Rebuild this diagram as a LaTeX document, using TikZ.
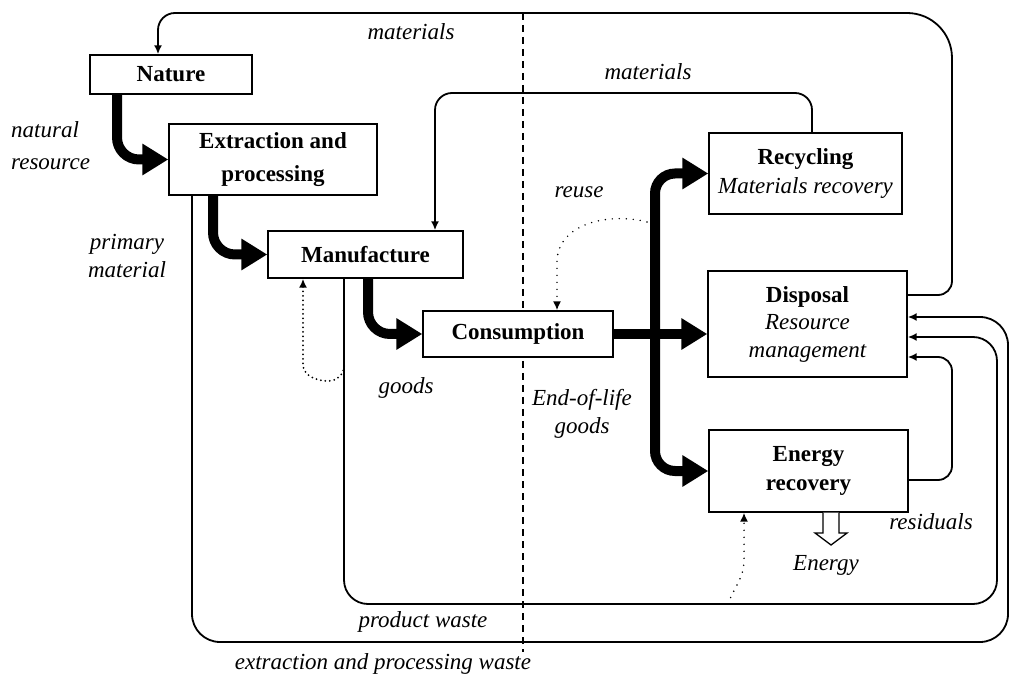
\documentclass[tikz,border=0pt]{standalone}
\usepackage{fontspec}
\setmainfont{Liberation Serif}
\usetikzlibrary{arrows.meta,calc}
\begin{document}
\begin{tikzpicture}[x=1pt,y=1pt,
  box/.style={draw, line width=1.4pt, fill=white, inner sep=0pt, align=center,
              font=\fontsize{23}{29}\selectfont\bfseries},
  lab/.style={inner sep=0pt, font=\fontsize{23}{30}\selectfont\itshape},
  big/.style={line width=10pt, -{Triangle[length=26pt,width=30pt]}},
  thinl/.style={line width=1.8pt, -{Latex[length=9pt,width=8pt]}},
  dotl/.style={line width=2pt, line cap=round, dash pattern=on 0pt off 4.5pt,
               -{Latex[length=9pt,width=8pt]}},
  dotlight/.style={line width=1.6pt, line cap=round, dash pattern=on 0pt off 7pt,
               -{Latex[length=9pt,width=8pt]}},
  divider/.style={line width=1.5pt, dash pattern=on 7pt off 5pt}
]
\useasboundingbox (0,0) rectangle (1010,-676);
\fill[white] (0,0) rectangle (1010,-676);

% dividing line
\coordinate (dtop) at (523,-13);
\coordinate (dbot) at (523,-652);
\draw[divider] (dtop) -- (dbot);

% boxes
\node[box, minimum width=162pt, minimum height=39pt] (nat) at (171,-74.5) {Nature};
\node[box, minimum width=208pt, minimum height=71pt,
      font=\fontsize{23}{33}\selectfont\bfseries] (ext) at (273,-159.5) {Extraction and\\processing};
\node[box, minimum width=195pt, minimum height=47pt] (man) at (365.5,-254.5) {Manufacture};
\node[box, minimum width=190pt, minimum height=46pt] (cons) at (518,-334) {Consumption};
\node[box, minimum width=193pt, minimum height=81pt] (rec) at (805.5,-173.5)
      {Recycling\\{\itshape\mdseries Materials recovery}};
\node[box, minimum width=199pt, minimum height=106pt,
      font=\fontsize{23}{27.5}\selectfont\bfseries] (disp) at (807.5,-324)
      {Disposal\\{\itshape\mdseries Resource}\\{\itshape\mdseries management}};
\node[box, minimum width=199pt, minimum height=82pt] (ene) at (808.5,-471) {Energy\\recovery};

% thin flows
\draw[thinl] (disp.east |- 0,-295) -- (938,-295) to[out=0,in=-90] (952,-281) -- (952,-58)
      to[out=90,in=0] (907,-13) -- (175,-13) to[out=180,in=90] (158,-30) -- (nat.north -| 158,0);
\draw[thinl, rounded corners=17] (rec.north -| 812,0) -- (812,-93) -- (435,-93) -- (man.north -| 435,0);
\draw[thinl, rounded corners=28] (ext.south -| 192,0) -- (192,-642) -- (1008,-642) -- (1008,-317)
      -- (disp.east |- 0,-317);
\draw[thinl, rounded corners=24] (man.south -| 344,0) -- (344,-604) -- (997,-604) -- (997,-337)
      -- (disp.east |- 0,-337);
\draw[thinl, rounded corners=14] (ene.east |- 0,-480) -- (952,-480) -- (952,-357)
      -- (disp.east |- 0,-357);

% dotted flows
\coordinate (mloop) at (344,-366);
\draw[dotl] (mloop) to[out=-90,in=0] (328,-381) to[out=180,in=-90] (303,-364) -- (man.south -| 303,0);
\coordinate (reusestart) at (647,-222);
\draw[dotlight] (reusestart) to[out=165,in=90] (557,-262) -- (cons.north -| 557,0);
\coordinate (enestart) at (728,-604);
\draw[dotlight] (enestart) to[out=70,in=-90] (744,-560) -- (ene.south -| 744,0);

% energy output (hollow arrow)
\draw[line width=1.3pt, fill=white] (ene.south -| 823,0) -- (823,-533) -- (815,-533) -- (831,-545)
      -- (847,-533) -- (839,-533) -- (ene.south -| 839,0);

% thick flows
\draw[big, rounded corners=22] (nat.south -| 117,0) |- (ext.west);
\draw[big, rounded corners=22] (ext.south -| 213,0) |- (man.west);
\draw[big, rounded corners=22] (man.south -| 368,0) |- (cons.west);
\draw[big] (cons.east) -- (cons.east -| disp.west);
\coordinate (fork) at (cons.east -| 655,0);
\draw[big, rounded corners=20] (fork) |- (rec.west);
\draw[big, rounded corners=20] (fork) |- (ene.west);

% labels
\node[lab] (l1) at (411,-32) {materials};
\node[lab] (l2) at (648,-72) {materials};
\node[lab, anchor=west, align=left, font=\fontsize{23}{32}\selectfont\itshape] (l3) at (11,-146) {natural\\resource};
\node[lab, align=center, font=\fontsize{23}{28}\selectfont\itshape] (l4) at (127,-256) {primary\\material};
\node[lab] (l5) at (406,-388) {goods};
\node[lab] (l6) at (579,-192) {reuse};
\node[lab, align=center, font=\fontsize{23}{28}\selectfont\itshape] (l7) at (582,-414) {End-of-life\\goods};
\node[lab] (l8) at (931,-522) {residuals};
\node[lab] (l9) at (826,-565) {Energy};
\node[lab] (l10) at (423,-622) {product waste};
\node[lab] (l11) at (383,-664) {extraction and processing waste};
\end{tikzpicture}
\end{document}
